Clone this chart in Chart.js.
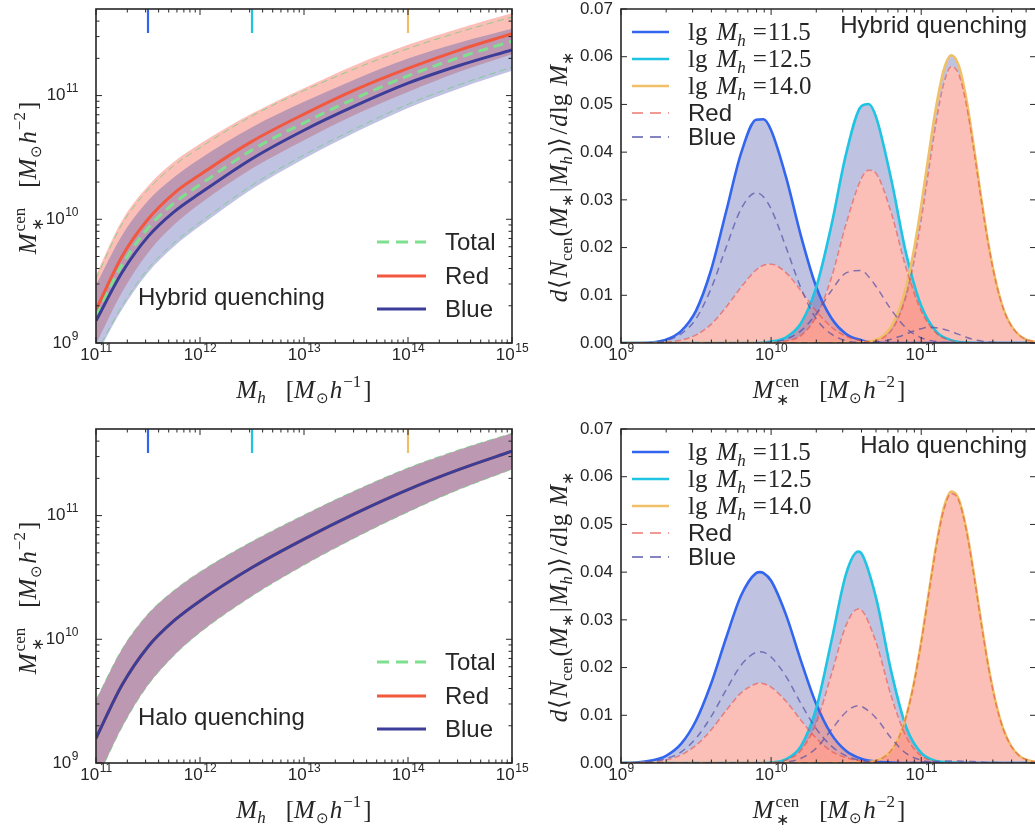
<!DOCTYPE html>
<html><head><meta charset="utf-8">
<script src="https://cdn.jsdelivr.net/npm/chart.js@4.4.1/dist/chart.umd.min.js"></script>
<style>
html,body{margin:0;padding:0;background:#fff;overflow:hidden;width:1035px;height:834px}
canvas{position:absolute;left:0;top:0}
</style></head><body>
<canvas id="c0" width="1035" height="834"></canvas>
<canvas id="c1" width="1035" height="834"></canvas>
<canvas id="c2" width="1035" height="834"></canvas>
<canvas id="c3" width="1035" height="834"></canvas>
<script>
// ---------------- DATA (lg units) ----------------
const lgMh = [11, 11.25, 11.5, 11.75, 12, 12.5, 13, 13.5, 14, 14.5, 15];
// Hybrid quenching: lg M*cen vs lg Mh
const hybRedMed  = [9.27, 9.70, 10.00, 10.21, 10.36, 10.63, 10.85, 11.05, 11.22, 11.37, 11.50];
const hybBlueMed = [9.18, 9.57, 9.86, 10.06, 10.21, 10.49, 10.72, 10.92, 11.10, 11.245, 11.37];
const hybTotMed  = [9.22, 9.63, 9.93, 10.13, 10.28, 10.56, 10.78, 10.98, 11.16, 11.31, 11.44];
const hybRedUp   = [9.55, 9.99, 10.27, 10.465, 10.61, 10.855, 11.06, 11.25, 11.41, 11.545, 11.665];
const hybRedLo   = [8.99, 9.41, 9.73, 9.955, 10.125, 10.41, 10.64, 10.85, 11.03, 11.195, 11.335];
const hybBlueUp  = [9.47, 9.87, 10.15, 10.34, 10.49, 10.745, 10.95, 11.135, 11.30, 11.43, 11.54];
const hybBlueLo  = [8.89, 9.27, 9.57, 9.78, 9.945, 10.245, 10.49, 10.705, 10.90, 11.06, 11.20];
const hybTotUp   = [9.52, 9.96, 10.24, 10.435, 10.58, 10.835, 11.04, 11.22, 11.38, 11.515, 11.635];
const hybTotLo   = [8.92, 9.30, 9.60, 9.81, 9.975, 10.275, 10.52, 10.735, 10.93, 11.09, 11.23];
// Halo quenching: red, blue and total coincide
const haloMed = [9.20, 9.63, 9.94, 10.15, 10.31, 10.58, 10.81, 11.02, 11.21, 11.375, 11.52];
const haloUp  = [9.51, 9.92, 10.205, 10.395, 10.545, 10.79, 11.005, 11.205, 11.385, 11.535, 11.665];
const haloLo  = [8.85, 9.29, 9.63, 9.87, 10.055, 10.35, 10.60, 10.825, 11.03, 11.215, 11.375];

const markerLgMh = [11.5, 12.5, 14.0];
const groupLabels = ['11.5', '12.5', '14.0'];

// Conditional distributions d<Ncen(M*|Mh)>/dlgM*  (x in lg M*)
const hybG1x = [9.0, 9.1, 9.2, 9.3, 9.4, 9.5, 9.6, 9.7, 9.8, 9.9, 9.95, 10.0, 10.1, 10.2, 10.3, 10.4, 10.5, 10.6, 10.7, 10.8, 10.9, 11.8];
const hybG1T = [0, 0, 0.0001, 0.0007, 0.0025, 0.0068, 0.0153, 0.0275, 0.0398, 0.0468, 0.0469, 0.0446, 0.0347, 0.0223, 0.0118, 0.0053, 0.0019, 0.0006, 0.0001, 0, 0, 0];
const hybG1R = [0, 0, 0, 0.0002, 0.0006, 0.0017, 0.0039, 0.0075, 0.0117, 0.0153, 0.0163, 0.0165, 0.0147, 0.0109, 0.0067, 0.0034, 0.0014, 0.0005, 0.0001, 0, 0, 0];
const hybG1B = [0, 0, 0.0001, 0.0005, 0.0019, 0.0051, 0.0114, 0.0200, 0.0281, 0.0315, 0.0306, 0.0281, 0.0200, 0.0114, 0.0051, 0.0019, 0.0005, 0.0001, 0, 0, 0, 0];

const hybG2x = [9.0, 9.9, 10.0, 10.1, 10.2, 10.3, 10.4, 10.5, 10.6, 10.65, 10.7, 10.8, 10.9, 11.0, 11.1, 11.2, 11.3, 11.4, 11.8];
const hybG2T = [0, 0, 0.0003, 0.0012, 0.0042, 0.0116, 0.0244, 0.0397, 0.0496, 0.0501, 0.0473, 0.0343, 0.0187, 0.0078, 0.0024, 0.0006, 0.0001, 0, 0];
const hybG2R = [0, 0, 0.0001, 0.0004, 0.0016, 0.0055, 0.0135, 0.0250, 0.0344, 0.0362, 0.0355, 0.0273, 0.0156, 0.0067, 0.0021, 0.0005, 0.0001, 0, 0];
const hybG2B = [0, 0, 0.0002, 0.0008, 0.0026, 0.0061, 0.0109, 0.0147, 0.0152, 0.0139, 0.0118, 0.0070, 0.0031, 0.0011, 0.0003, 0.0001, 0, 0, 0];

const g3x = [9.0, 10.5, 10.6, 10.65, 10.7, 10.75, 10.8, 10.85, 10.9, 10.95, 11.0, 11.05, 11.1, 11.15, 11.2, 11.25, 11.3, 11.35, 11.4, 11.45, 11.5, 11.55, 11.6, 11.65, 11.7, 11.75, 11.8];
const hybG3T = [0, 0, 0.0001, 0.0003, 0.0007, 0.0016, 0.0034, 0.0067, 0.0118, 0.0193, 0.0288, 0.0395, 0.0496, 0.0572, 0.0603, 0.0581, 0.0512, 0.0412, 0.0303, 0.0203, 0.0125, 0.0069, 0.0036, 0.0017, 0.0007, 0.0003, 0.0001];
const hybG3R = [0, 0, 0.0001, 0.0002, 0.0005, 0.0012, 0.0026, 0.0054, 0.0099, 0.0168, 0.0258, 0.0362, 0.0464, 0.0543, 0.0579, 0.0563, 0.0500, 0.0405, 0.0299, 0.0201, 0.0124, 0.0069, 0.0036, 0.0017, 0.0007, 0.0003, 0.0001];
const hybG3B = [0, 0, 0, 0.0001, 0.0002, 0.0004, 0.0008, 0.0013, 0.0019, 0.0025, 0.0030, 0.0033, 0.0032, 0.0029, 0.0024, 0.0018, 0.0012, 0.0007, 0.0004, 0.0002, 0.0001, 0, 0, 0, 0, 0, 0];

const haloG1x = [9.0, 9.1, 9.2, 9.3, 9.4, 9.5, 9.6, 9.7, 9.8, 9.9, 9.925, 9.95, 10.0, 10.1, 10.2, 10.3, 10.4, 10.5, 10.6, 10.7, 10.8, 10.9, 11.8];
const haloG1T = [0, 0.0001, 0.0005, 0.0015, 0.0040, 0.0089, 0.0166, 0.0262, 0.0351, 0.0398, 0.0400, 0.0398, 0.0382, 0.0310, 0.0213, 0.0124, 0.0061, 0.0025, 0.0009, 0.0003, 0.0001, 0, 0];
const haloG1R = [0, 0.0001, 0.0002, 0.0006, 0.0017, 0.0037, 0.0069, 0.0110, 0.0147, 0.0166, 0.0167, 0.0166, 0.0159, 0.0129, 0.0089, 0.0052, 0.0025, 0.0011, 0.0004, 0.0001, 0, 0, 0];
const haloG1B = [0, 0.0001, 0.0003, 0.0009, 0.0023, 0.0052, 0.0097, 0.0153, 0.0205, 0.0232, 0.0233, 0.0232, 0.0222, 0.0181, 0.0124, 0.0072, 0.0036, 0.0015, 0.0005, 0.0002, 0, 0, 0];

const haloG2x = [9.0, 9.9, 10.0, 10.1, 10.2, 10.3, 10.4, 10.5, 10.58, 10.6, 10.7, 10.8, 10.9, 11.0, 11.1, 11.2, 11.3, 11.8];
const haloG2T = [0, 0, 0.0001, 0.0008, 0.0036, 0.0114, 0.0253, 0.0397, 0.0443, 0.0440, 0.0345, 0.0192, 0.0075, 0.0021, 0.0004, 0.0001, 0, 0];
const haloG2R = [0, 0, 0.0001, 0.0006, 0.0027, 0.0083, 0.0184, 0.0289, 0.0323, 0.0321, 0.0252, 0.0140, 0.0055, 0.0015, 0.0003, 0, 0, 0];
const haloG2B = [0, 0, 0, 0.0002, 0.0010, 0.0031, 0.0069, 0.0107, 0.0120, 0.0119, 0.0094, 0.0052, 0.0020, 0.0006, 0.0001, 0, 0, 0];

const haloG3T = [0, 0, 0.0001, 0.0002, 0.0005, 0.0012, 0.0026, 0.0053, 0.0098, 0.0165, 0.0254, 0.0356, 0.0456, 0.0534, 0.0569, 0.0553, 0.0491, 0.0398, 0.0294, 0.0198, 0.0122, 0.0068, 0.0035, 0.0016, 0.0007, 0.0003, 0.0001];
const haloG3R = [0, 0, 0.0001, 0.0002, 0.0005, 0.0012, 0.0026, 0.0052, 0.0097, 0.0164, 0.0252, 0.0354, 0.0453, 0.0530, 0.0565, 0.0550, 0.0488, 0.0395, 0.0292, 0.0197, 0.0121, 0.0068, 0.0035, 0.0016, 0.0007, 0.0003, 0.0001];
const haloG3B = [0, 0, 0, 0, 0, 0, 0, 0, 0.0001, 0.0001, 0.0002, 0.0002, 0.0003, 0.0004, 0.0004, 0.0004, 0.0003, 0.0003, 0.0002, 0.0001, 0.0001, 0, 0, 0, 0, 0, 0];

const xTickExpLeft = [11, 12, 13, 14, 15];
const yTickExpLeft = [9, 10, 11];
const xTickExpRight = [9, 10, 11];
const yTicksRight = [0, 0.01, 0.02, 0.03, 0.04, 0.05, 0.06, 0.07];

// ---------------- STYLE ----------------
const SERIF = '"Liberation Serif","Times New Roman",serif';
const SANS = '"Liberation Sans",Arial,Helvetica,sans-serif';
const TXT = '#262626';
const PINK = 'rgba(250,128,114,0.5)';
const LAV = 'rgba(72,80,170,0.35)';
const GREEN = '#7ee08e';
const GREEN_EDGE = 'rgba(110,205,125,0.75)';
const REDL = '#f2583e';
const NAVY = '#3b3d98';
const GC = ['#3366ee', '#1fc4e2', '#efc068'];
const RDASH = 'rgba(230,70,60,0.55)';
const BDASH = 'rgba(80,80,170,0.7)';
const I = s => `italic ${s}px ${SERIF}`;
const R = s => `${s}px ${SERIF}`;

function rich(ctx, segs, x, y, align) {
  let cur = 0, prevStart = 0; const pos = [];
  for (const s of segs) {
    ctx.font = s.f;
    const w = ctx.measureText(s.t).width;
    let sx;
    if (s.stack) { sx = prevStart; cur = Math.max(cur, sx + w); }
    else { sx = cur + (s.gap || 0); prevStart = sx; cur = sx + w; }
    pos.push(sx);
  }
  const off = align === 'center' ? -cur / 2 : (align === 'right' ? -cur : 0);
  ctx.textBaseline = 'alphabetic'; ctx.textAlign = 'left';
  segs.forEach((s, i) => { ctx.font = s.f; ctx.fillText(s.t, x + off + pos[i], y + (s.dy || 0)); });
}
function pow10(ctx, x, y, e, align) {
  ctx.textBaseline = 'middle'; ctx.textAlign = 'left';
  ctx.font = `17px ${SANS}`; const wb = ctx.measureText('10').width;
  ctx.font = `12px ${SANS}`; const we = ctx.measureText(String(e)).width;
  const sx = align === 'center' ? x - (wb + we) / 2 : x - wb - we;
  ctx.font = `17px ${SANS}`; ctx.fillText('10', sx, y);
  ctx.font = `12px ${SANS}`; ctx.fillText(String(e), sx + wb + 0.5, y - 6.5);
}
function seg(ctx, x1, y1, x2, y2) { ctx.beginPath(); ctx.moveTo(x1, y1); ctx.lineTo(x2, y2); ctx.stroke(); }

const titleMh = [{t:'M', f:I(25)}, {t:'h', f:I(17), dy:5}, {t:'[', f:R(25), gap:20}, {t:'M', f:I(25)}, {t:'⊙', f:R(15), dy:5, gap:1}, {t:'h', f:I(25), gap:1}, {t:'−1', f:R(17), dy:-11, gap:1}, {t:']', f:R(25), gap:2}];
const titleMs = [{t:'M', f:I(25)}, {t:'cen', f:R(17), dy:-11, gap:2}, {t:'∗', f:R(16), dy:7, stack:true}, {t:'[', f:R(25), gap:20}, {t:'M', f:I(25)}, {t:'⊙', f:R(15), dy:5, gap:1}, {t:'h', f:I(25), gap:1}, {t:'−2', f:R(17), dy:-11, gap:1}, {t:']', f:R(25), gap:2}];
const titleN = [{t:'d', f:I(25)}, {t:'⟨', f:R(25), gap:1}, {t:'N', f:I(25), gap:1}, {t:'cen', f:R(17), dy:5}, {t:'(', f:R(25), gap:1}, {t:'M', f:I(25)}, {t:'∗', f:R(16), dy:6}, {t:'|', f:R(25), gap:2}, {t:'M', f:I(25), gap:2}, {t:'h', f:I(17), dy:5}, {t:')', f:R(25), gap:1}, {t:'⟩', f:R(25)}, {t:'/', f:R(25), gap:2}, {t:'d', f:I(25), gap:1}, {t:'lg', f:R(25), gap:1}, {t:'M', f:I(25), gap:8}, {t:'∗', f:R(16), dy:6}];

function logTicks(lo, hi) {
  const maj = [], min = [];
  for (let d = Math.floor(lo); d <= Math.ceil(hi); d++) {
    if (d >= lo - 1e-9 && d <= hi + 1e-9) maj.push(Math.pow(10, d));
    for (let k = 2; k <= 9; k++) { const v = k * Math.pow(10, d); const l = Math.log10(v); if (l > lo && l < hi - 0.005) min.push(v); }
  }
  return {maj, min};
}

// ---------------- LEFT PANELS ----------------
function leftDeco(label) {
  return {id: 'leftDeco', afterDraw(chart) {
    const {ctx, chartArea: a, scales: {x, y}} = chart;
    ctx.save();
    markerLgMh.forEach((m, i) => { ctx.strokeStyle = GC[i]; ctx.lineWidth = 2.2; const px = x.getPixelForValue(Math.pow(10, m)); seg(ctx, px, a.top, px, a.top + 24); });
    ctx.strokeStyle = TXT; ctx.lineWidth = 1;
    const tx = logTicks(11, 15), ty = logTicks(9, 11.7);
    tx.maj.forEach(v => { const p = x.getPixelForValue(v); seg(ctx, p, a.bottom, p, a.bottom - 6); seg(ctx, p, a.top, p, a.top + 6); });
    tx.min.forEach(v => { const p = x.getPixelForValue(v); seg(ctx, p, a.bottom, p, a.bottom - 3.5); seg(ctx, p, a.top, p, a.top + 3.5); });
    ty.maj.forEach(v => { const p = y.getPixelForValue(v); seg(ctx, a.left, p, a.left + 6, p); seg(ctx, a.right, p, a.right - 6, p); });
    ty.min.forEach(v => { const p = y.getPixelForValue(v); seg(ctx, a.left, p, a.left + 3.5, p); seg(ctx, a.right, p, a.right - 3.5, p); });
    ctx.lineWidth = 1.6; ctx.strokeRect(a.left, a.top, a.right - a.left, a.bottom - a.top);
    ctx.fillStyle = TXT;
    xTickExpLeft.forEach(e => pow10(ctx, x.getPixelForValue(Math.pow(10, e)), a.bottom + 12, e, 'center'));
    yTickExpLeft.forEach(e => pow10(ctx, a.left - 18, y.getPixelForValue(Math.pow(10, e)), e, 'right'));
    rich(ctx, titleMh, (a.left + a.right) / 2, a.bottom + 55, 'center');
    ctx.save(); ctx.translate(a.left - 60, (a.top + a.bottom) / 2 + 2); ctx.rotate(-Math.PI / 2); rich(ctx, titleMs, 0, 0, 'center'); ctx.restore();
    const T = a.top - 9, L = a.left;
    const rows = [{t:'Total', c:GREEN, dash:[12,7]}, {t:'Red', c:REDL, dash:[]}, {t:'Blue', c:NAVY, dash:[]}];
    rows.forEach((r, i) => {
      const yy = T + [242, 276, 309][i];
      ctx.strokeStyle = r.c; ctx.lineWidth = 3.2; ctx.setLineDash(r.dash); seg(ctx, L + 281, yy, L + 330, yy); ctx.setLineDash([]);
      ctx.fillStyle = TXT; ctx.font = `24px ${SANS}`; ctx.textBaseline = 'middle'; ctx.textAlign = 'left'; ctx.fillText(r.t, L + 349, yy + 1);
    });
    ctx.font = `24px ${SANS}`; ctx.fillText(label, L + 42, T + 298);
    ctx.restore();
  }};
}
function lp(ys) { return lgMh.map((v, i) => ({x: Math.pow(10, v), y: Math.pow(10, ys[i])})); }
function leftChart(id, top, d, label) {
  const none = 'rgba(0,0,0,0)';
  return new Chart(document.getElementById(id), {
    type: 'line',
    data: {datasets: [
      {data: lp(d.redUp), fill: 1, backgroundColor: PINK, borderColor: none, borderWidth: 0, order: 20},
      {data: lp(d.redLo), fill: false, borderColor: none, borderWidth: 0, order: 21},
      {data: lp(d.blueUp), fill: 3, backgroundColor: LAV, borderColor: none, borderWidth: 0, order: 19},
      {data: lp(d.blueLo), fill: false, borderColor: none, borderWidth: 0, order: 21},
      {data: lp(d.totUp), fill: false, borderColor: GREEN_EDGE, borderWidth: 1, borderDash: [7, 4], order: 6},
      {data: lp(d.totLo), fill: false, borderColor: GREEN_EDGE, borderWidth: 1, borderDash: [7, 4], order: 6},
      {data: lp(d.totMed), fill: false, borderColor: GREEN, borderWidth: 3, borderDash: [10, 6], order: 5},
      {data: lp(d.redMed), fill: false, borderColor: REDL, borderWidth: 3, order: 4},
      {data: lp(d.blueMed), fill: false, borderColor: NAVY, borderWidth: 3, order: 3}
    ]},
    options: {
      responsive: false, animation: false, devicePixelRatio: 1, events: [],
      layout: {padding: {left: 96, right: 1035 - 512, top: top, bottom: 834 - (top + 334)}},
      plugins: {legend: {display: false}, tooltip: {enabled: false}},
      elements: {point: {radius: 0}, line: {cubicInterpolationMode: 'monotone'}},
      scales: {
        x: {type: 'logarithmic', min: 1e11, max: 1e15, display: false},
        y: {type: 'logarithmic', min: 1e9, max: Math.pow(10, 11.7), display: false}
      }
    },
    plugins: [leftDeco(label)]
  });
}

// ---------------- RIGHT PANELS ----------------
function rightDeco(label) {
  return {id: 'rightDeco', afterDraw(chart) {
    const {ctx, chartArea: a, scales: {x, y}} = chart;
    ctx.save();
    ctx.strokeStyle = TXT; ctx.lineWidth = 1;
    const tx = logTicks(9, 11.758);
    tx.maj.forEach(v => { const p = x.getPixelForValue(v); seg(ctx, p, a.bottom, p, a.bottom - 6); seg(ctx, p, a.top, p, a.top + 6); });
    tx.min.forEach(v => { const p = x.getPixelForValue(v); seg(ctx, p, a.bottom, p, a.bottom - 3.5); seg(ctx, p, a.top, p, a.top + 3.5); });
    yTicksRight.forEach(v => { const p = y.getPixelForValue(v); seg(ctx, a.left, p, a.left + 6, p); seg(ctx, a.right + 1, p, a.right - 5, p); });
    ctx.lineWidth = 1.6;
    ctx.beginPath(); ctx.moveTo(a.right + 2, a.top); ctx.lineTo(a.left, a.top); ctx.lineTo(a.left, a.bottom); ctx.lineTo(a.right + 2, a.bottom); ctx.stroke();
    ctx.fillStyle = TXT;
    xTickExpRight.forEach(e => pow10(ctx, x.getPixelForValue(Math.pow(10, e)), a.bottom + 12, e, 'center'));
    ctx.font = `17px ${SANS}`; ctx.textAlign = 'right'; ctx.textBaseline = 'middle';
    yTicksRight.forEach(v => ctx.fillText(v.toFixed(2), a.left - 8, y.getPixelForValue(v)));
    rich(ctx, titleMs, 829, a.bottom + 55, 'center');
    ctx.save(); ctx.translate(a.left - 54, (a.top + a.bottom) / 2 + 1); ctx.rotate(-Math.PI / 2); rich(ctx, titleN, 0, 0, 'center'); ctx.restore();
    const T = a.top - 9, L = a.left;
    const ys = [32, 59, 86, 113, 137];
    groupLabels.forEach((g, i) => {
      const yy = T + ys[i];
      ctx.strokeStyle = GC[i]; ctx.lineWidth = 2.6; seg(ctx, L + 11, yy, L + 48, yy);
      ctx.fillStyle = TXT;
      rich(ctx, [{t:'lg', f:R(25)}, {t:'M', f:I(25), gap:9}, {t:'h', f:I(17), dy:6}, {t:'=', f:R(25), gap:7}, {t:g, f:R(25), gap:1}], L + 67, yy + 8, 'left');
    });
    [['Red', RDASH], ['Blue', BDASH]].forEach((r, j) => {
      const yy = T + ys[3 + j];
      ctx.strokeStyle = r[1]; ctx.lineWidth = 2; ctx.setLineDash([11, 7]); seg(ctx, L + 11, yy, L + 48, yy); ctx.setLineDash([]);
      ctx.fillStyle = TXT; ctx.font = `24px ${SANS}`; ctx.textAlign = 'left'; ctx.textBaseline = 'middle'; ctx.fillText(r[0], L + 67, yy + 1);
    });
    ctx.font = `24px ${SANS}`; ctx.textAlign = 'right'; ctx.textBaseline = 'middle'; ctx.fillText(label, 1027, T + 26);
    ctx.restore();
  }};
}
function rp(xs, ys) { return xs.map((v, i) => ({x: Math.pow(10, v), y: ys[i]})); }
function rightChart(id, top, groups, label) {
  const none = 'rgba(0,0,0,0)';
  const ds = [];
  groups.forEach((g, i) => {
    ds.push({data: rp(g.x, g.T), fill: 2 * i + 1, backgroundColor: LAV, borderColor: none, borderWidth: 0, order: 100 - 2 * i});
    ds.push({data: rp(g.x, g.R), fill: 'origin', backgroundColor: PINK, borderColor: none, borderWidth: 0, order: 99 - 2 * i});
  });
  groups.forEach((g, i) => {
    ds.push({data: rp(g.x, g.T), fill: false, borderColor: GC[i], borderWidth: 2.6, order: 20 - i});
  });
  groups.forEach((g, i) => {
    ds.push({data: rp(g.x, g.R), fill: false, borderColor: RDASH, borderWidth: 1.5, borderDash: [6, 3], order: 10});
    ds.push({data: rp(g.x, g.B), fill: false, borderColor: BDASH, borderWidth: 1.5, borderDash: [7, 5], order: 9});
  });
  return new Chart(document.getElementById(id), {
    type: 'line',
    data: {datasets: ds},
    options: {
      responsive: false, animation: false, devicePixelRatio: 1, events: [],
      layout: {padding: {left: 621, right: 0, top: top, bottom: 834 - (top + 334)}},
      plugins: {legend: {display: false}, tooltip: {enabled: false}},
      elements: {point: {radius: 0}, line: {cubicInterpolationMode: 'monotone'}},
      scales: {
        x: {type: 'logarithmic', min: 1e9, max: Math.pow(10, 11.758), display: false},
        y: {type: 'linear', min: 0, max: 0.07, display: false}
      }
    },
    plugins: [rightDeco(label)]
  });
}

leftChart('c0', 9, {redUp: hybRedUp, redLo: hybRedLo, blueUp: hybBlueUp, blueLo: hybBlueLo, totUp: hybTotUp, totLo: hybTotLo, totMed: hybTotMed, redMed: hybRedMed, blueMed: hybBlueMed}, 'Hybrid quenching');
leftChart('c1', 429, {redUp: haloUp, redLo: haloLo, blueUp: haloUp, blueLo: haloLo, totUp: haloUp, totLo: haloLo, totMed: haloMed, redMed: haloMed, blueMed: haloMed}, 'Halo quenching');
rightChart('c2', 9, [
  {x: hybG1x, T: hybG1T, R: hybG1R, B: hybG1B},
  {x: hybG2x, T: hybG2T, R: hybG2R, B: hybG2B},
  {x: g3x, T: hybG3T, R: hybG3R, B: hybG3B}
], 'Hybrid quenching');
rightChart('c3', 429, [
  {x: haloG1x, T: haloG1T, R: haloG1R, B: haloG1B},
  {x: haloG2x, T: haloG2T, R: haloG2R, B: haloG2B},
  {x: g3x, T: haloG3T, R: haloG3R, B: haloG3B}
], 'Halo quenching');
</script>
</body></html>
